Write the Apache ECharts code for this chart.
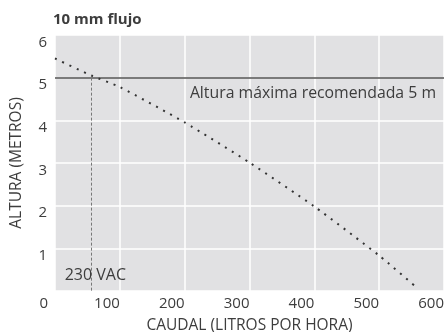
<!DOCTYPE html>
<html>
<head>
<meta charset="utf-8">
<script src="https://cdn.jsdelivr.net/npm/echarts@6/dist/echarts.min.js"></script>
<style>html,body{margin:0;padding:0;background:#fff;}#c{width:444px;height:332px;}</style>
</head>
<body>
<div id="c"></div>
<script>
const flow = [0, 56, 100, 200, 300, 400, 500, 558];
const head = [5.45, 5.05, 4.78, 3.95, 3.01, 1.98, 0.83, 0.08];
const maxHead = 5;
const vacFlow = 56;
const titleText = '10 mm flujo';
const xName = 'CAUDAL (LITROS POR HORA)';
const yName = 'ALTURA (METROS)';
const maxLabel = 'Altura máxima recomendada 5 m';
const vacLabel = '230 VAC';

const txt = '#3d3d3d';
const font = 'Open Sans';
const chart = echarts.init(document.getElementById('c'));
chart.setOption({
  animation: false,
  textStyle: {fontFamily: font, color: txt},
  title: {text: titleText, left: 53, top: 12, padding: 0, textStyle: {fontFamily: font, fontSize: 15, fontWeight: 'bold', color: txt}},
  grid: {left: 55, right: 0, top: 35, bottom: 41, show: true, backgroundColor: '#e1e1e3', borderWidth: 0,
    containLabel: false, outerBoundsMode: 'none'},
  xAxis: {
    type: 'value', min: 0, max: 600, interval: 100,
    name: xName, nameLocation: 'middle', nameGap: 27,
    nameTextStyle: {fontFamily: font, fontSize: 15.5, color: txt},
    axisLine: {show: false}, axisTick: {show: false},
    splitLine: {lineStyle: {color: '#ffffff', width: 1.5}},
    axisLabel: {fontFamily: font, fontSize: 15, color: txt, align: 'right', margin: 5,
      formatter: v => v === 0 ? '{z|0}' : String(v),
      rich: {z: {fontFamily: font, fontSize: 15, color: txt, padding: [0, 7, 0, 0]}}}
  },
  yAxis: {
    type: 'value', min: 0, max: 6, interval: 1,
    name: yName, nameLocation: 'middle', nameGap: 30,
    nameTextStyle: {fontFamily: font, fontSize: 15.5, color: txt},
    axisLine: {show: false}, axisTick: {show: false},
    splitLine: {lineStyle: {color: '#ffffff', width: 1.5}},
    axisLabel: {fontFamily: font, fontSize: 15, color: txt, verticalAlign: 'top', margin: 8,
      formatter: v => v === 0 ? '' : String(v)}
  },
  series: [{
    type: 'line',
    data: flow.map((f, i) => [f, head[i]]),
    smooth: 0.2,
    symbol: 'none',
    lineStyle: {color: '#333333', width: 2, type: [2, 6]},
    z: 5,
    markLine: {
      silent: true, symbol: 'none', animation: false,
      data: [
        {yAxis: maxHead, lineStyle: {color: '#505050', width: 1.5, type: 'solid'},
         label: {show: true, position: 'insideEndBottom', formatter: maxLabel, fontFamily: font, fontSize: 15.8, color: txt, distance: [8, 8]}},
        [{coord: [vacFlow, maxHead], lineStyle: {color: '#777777', width: 1, type: [3, 2]}, label: {show: false}},
         {coord: [vacFlow, 0]}]
      ]
    },
    markPoint: {
      silent: true, symbol: 'circle', symbolSize: 0,
      data: [{coord: [vacFlow, 0], label: {show: true, formatter: vacLabel, position: 'inside', offset: [4, -16], fontFamily: font, fontSize: 16, color: txt}}]
    }
  }]
});
</script>
</body>
</html>
